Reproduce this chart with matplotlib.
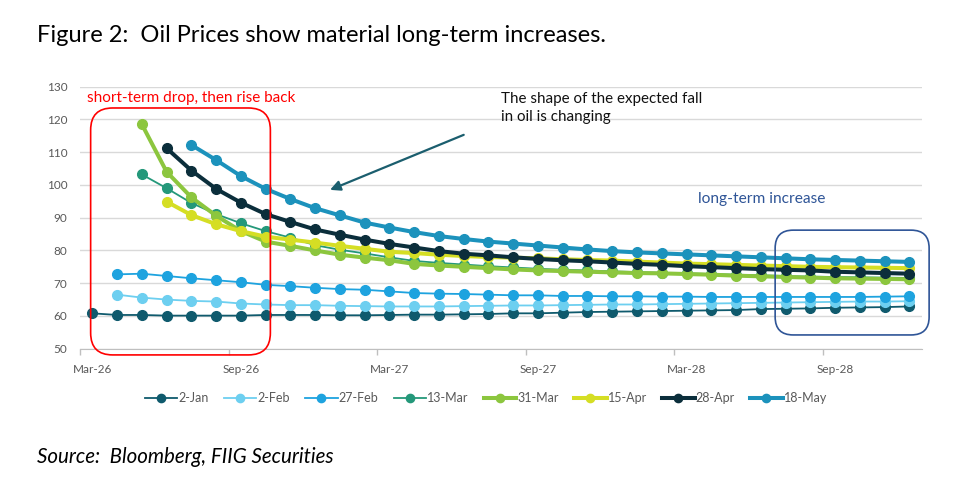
import matplotlib
matplotlib.use("Agg")
import matplotlib.pyplot as plt
from matplotlib.patches import FancyBboxPatch
import numpy as np
import pandas as pd

plt.rcParams['font.family'] = ['Lato', 'DejaVu Sans']

# monthly forward curve, Mar-26 .. Dec-28
months = pd.date_range('2026-03-01', '2028-12-01', freq='MS')
tick_labels = ['Mar-26', 'Sep-26', 'Mar-27', 'Sep-27', 'Mar-28', 'Sep-28']

jan02 = [60.8, 60.3, 60.3, 60.1, 60.1, 60.1, 60.1, 60.3, 60.3, 60.3, 60.2, 60.2,
         60.3, 60.4, 60.4, 60.5, 60.6, 60.8, 60.8, 61.0, 61.2, 61.3, 61.4, 61.5,
         61.6, 61.7, 61.8, 62.1, 62.2, 62.3, 62.5, 62.6, 62.7, 62.9]
feb02 = [66.5, 65.6, 65.0, 64.6, 64.4, 63.8, 63.5, 63.3, 63.3, 63.1, 63.0, 62.9,
         62.9, 62.9, 63.0, 63.1, 63.2, 63.2, 63.3, 63.4, 63.5, 63.5, 63.6, 63.7,
         63.8, 63.9, 64.0, 64.1, 64.2, 64.3, 64.4, 64.4, 64.5]
feb27 = [72.7, 72.9, 72.2, 71.5, 70.9, 70.3, 69.5, 69.1, 68.6, 68.2, 68.0, 67.5,
         67.0, 66.8, 66.7, 66.5, 66.3, 66.3, 66.1, 66.1, 66.0, 66.0, 65.9, 65.9,
         65.8, 65.8, 65.8, 65.8, 65.8, 65.8, 65.8, 65.9, 66.0]
mar13 = [103.2, 99.0, 94.5, 91.1, 88.3, 85.9, 83.9, 81.6, 80.2, 79.1, 77.9, 76.8,
         76.2, 75.7, 75.2, 74.8, 74.4, 74.1, 73.9, 73.6, 73.4, 73.2, 73.0, 72.8,
         72.6, 72.4, 72.2, 72.0, 71.9, 71.8, 71.7, 71.6]
mar31 = [118.5, 104.0, 96.2, 90.6, 85.9, 82.7, 81.4, 80.0, 78.7, 77.8, 77.0, 75.9,
         75.4, 75.0, 74.6, 74.2, 73.9, 73.7, 73.5, 73.3, 73.1, 73.0, 72.8, 72.6,
         72.3, 72.1, 71.9, 71.7, 71.5, 71.4, 71.3, 71.2]
apr15 = [94.9, 90.8, 88.0, 85.9, 84.2, 83.3, 82.4, 81.4, 80.5, 79.6, 79.2, 78.7,
         78.3, 78.0, 77.8, 77.6, 77.3, 77.1, 76.9, 76.6, 76.3, 76.0, 75.8, 75.6,
         75.4, 75.2, 75.0, 74.9, 74.8, 74.7, 74.6]
apr28 = [111.2, 104.4, 98.8, 94.6, 91.1, 88.7, 86.4, 84.8, 83.3, 82.0, 80.9, 79.8,
         79.0, 78.5, 77.9, 77.4, 77.0, 76.7, 76.3, 75.9, 75.6, 75.2, 74.9, 74.6,
         74.3, 74.1, 73.9, 73.5, 73.3, 73.1, 72.9]
may18 = [112.2, 107.6, 102.7, 98.8, 95.7, 92.9, 90.7, 88.5, 87.0, 85.6, 84.4, 83.5,
         82.7, 82.1, 81.5, 80.9, 80.3, 79.8, 79.4, 79.1, 78.8, 78.5, 78.2, 77.9,
         77.6, 77.3, 77.1, 76.9, 76.7, 76.5]

series = [
    ('2-Jan', jan02, '#0f5a6d', 1.3),
    ('2-Feb', feb02, '#6dcff0', 1.3),
    ('27-Feb', feb27, '#1ea3df', 1.3),
    ('13-Mar', mar13, '#24987a', 1.3),
    ('31-Mar', mar31, '#8cc63e', 2.9),
    ('15-Apr', apr15, '#d5de24', 2.9),
    ('28-Apr', apr28, '#0b2e3b', 2.9),
    ('18-May', may18, '#1c92bc', 2.9),
]

n = len(months)
x = np.arange(n)

fig = plt.figure(figsize=(9.73, 4.93), dpi=100)
ax = fig.add_axes([80 / 973, 1 - 348.7 / 493, (921.7 - 80) / 973, (348.7 - 86.7) / 493])

for name, vals, col, lw in series:
    # each curve ends in Dec-28, so pad the front with gaps
    y = np.full(n, np.nan)
    y[n - len(vals):] = vals
    ax.plot(x, y, color=col, lw=lw, marker='o', ms=7, label=name)

ax.set_xlim(-0.5, n - 0.5)
ax.set_ylim(50, 130)
ax.set_yticks(np.arange(50, 131, 10))
ax.grid(axis='y', color='#d9d9d9', lw=1)
ax.set_axisbelow(True)

lab_idx = [i for i, m in enumerate(months) if m.strftime('%b-%y') in tick_labels]
ax.set_xticks(lab_idx)
ax.set_xticklabels([months[i].strftime('%b-%y') for i in lab_idx])
ax.set_xticks(np.arange(-0.5, n, 6), minor=True)
ax.tick_params(axis='x', which='major', length=0, pad=11, labelsize=8.5, labelcolor='#595959')
ax.tick_params(axis='x', which='minor', length=4.5, color='#bfbfbf', width=1)
ax.tick_params(axis='y', length=0, pad=9, labelsize=8.5, labelcolor='#595959')

for s in ['top', 'right', 'left']:
    ax.spines[s].set_visible(False)
ax.spines['bottom'].set_color('#bfbfbf')

fig.legend(loc='center', bbox_to_anchor=(486 / 973, 1 - 398 / 493), ncol=8, frameon=False,
           fontsize=9, handlelength=2.6, columnspacing=1.2, handletextpad=0.1,
           labelcolor='#595959', markerscale=0.85)

# rounded highlight boxes, extents in data units
fig.canvas.draw()


def rounded_box(x0, x1, y0, y1, col, rad):
    (px0, py0) = ax.transData.transform((x0, y0))
    (px1, py1) = ax.transData.transform((x1, y1))
    box = FancyBboxPatch((px0, py0), px1 - px0, py1 - py0,
                         boxstyle='round,pad=0,rounding_size=%d' % rad,
                         transform=None, fill=False, edgecolor=col, lw=1.2)
    fig.patches.append(box)


rounded_box(-0.07, 7.19, 48.1, 123.5, '#ff0000', 22)
rounded_box(27.58, 33.8, 54.2, 86.2, '#2f5597', 18)

ax.text(-0.2, 126.5, 'short-term drop, then rise back', color='#ff0000', fontsize=11,
        va='center', ha='left')
ax.text(24.45, 95.7, 'long-term increase', color='#2f5597', fontsize=11.2,
        va='center', ha='left')
ax.text(16.5, 123.5, 'The shape of the expected fall\nin oil is changing', color='#111111',
        fontsize=10.9, va='center', ha='left', linespacing=1.3)
ax.annotate('', xy=(9.6, 98.5), xytext=(15.0, 115.3),
            arrowprops=dict(arrowstyle='-|>,head_length=0.6,head_width=0.3',
                            color='#1b5e6e', lw=1.6, shrinkA=0, shrinkB=0))

fig.text(37 / 973, 1 - 35 / 493, 'Figure 2:  Oil Prices show material long-term increases.',
         fontsize=17, va='center', ha='left', color='#000000')
fig.text(37 / 973, 1 - 457 / 493, 'Source:  Bloomberg, FIIG Securities',
         fontsize=14.8, va='center', ha='left', style='italic', color='#000000')

fig.savefig('out.png', dpi=100)
